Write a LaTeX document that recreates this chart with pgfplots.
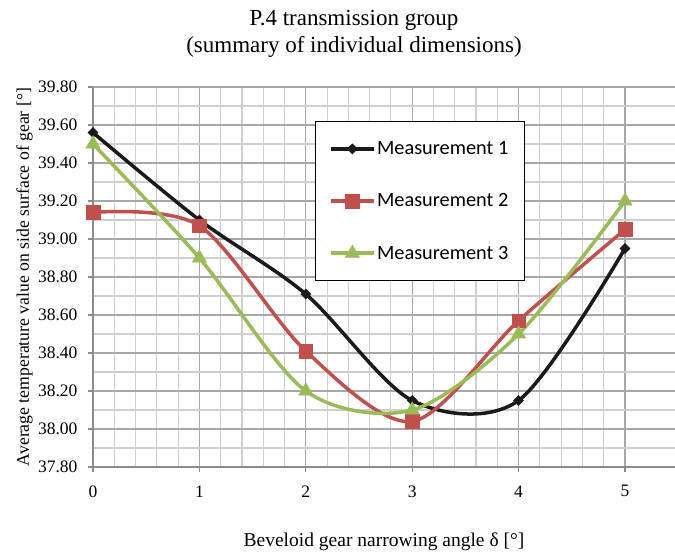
\documentclass[border=0pt]{standalone}
\usepackage{pgfplots}
\pgfplotsset{compat=1.18}
\usepackage{fontspec}
\setmainfont{Liberation Serif}
\newfontfamily\carlito{Carlito}
\definecolor{mone}{HTML}{1A1A1A}
\definecolor{mtwo}{HTML}{C0504D}
\definecolor{mthree}{HTML}{9BBB59}
\definecolor{majgrid}{HTML}{A8A8A8}
\definecolor{mingrid}{HTML}{CFCFCF}
\definecolor{axgray}{HTML}{8C8C8C}
\begin{document}
\begin{tikzpicture}
\useasboundingbox (0,0) rectangle (675pt,557pt);
\node[font=\fontsize{23}{27}\selectfont, align=center] at (354pt,523.5pt) {P.4 transmission group\\(summary of individual dimensions)};
\begin{axis}[
  at={(93pt,90pt)}, anchor=south west,
  scale only axis, width=582pt, height=380pt,
  xmin=0, xmax=5.47, ymin=37.8, ymax=39.8,
  axis x line=bottom, axis y line=left,
  axis line style={-, draw=axgray, line width=1.3pt},
  xtick={0,1,2,3,4,5},
  ytick={37.8,38.0,38.2,38.4,38.6,38.8,39.0,39.2,39.4,39.6,39.8},
  minor x tick num=4, minor y tick num=1,
  grid=both,
  major grid style={draw=majgrid, line width=1.1pt},
  minor grid style={draw=mingrid, line width=1.1pt},
  tick align=outside, major tick length=5pt, minor tick length=0pt,
  tick style={draw=axgray, line width=1.1pt},
  /pgf/number format/assume math mode=true,
  tick label style={font=\fontsize{17.5}{20}\selectfont},
  yticklabel style={/pgf/number format/fixed, /pgf/number format/fixed zerofill, /pgf/number format/precision=2, xshift=-7pt},
  xticklabel style={yshift=-10pt},
  xlabel={Beveloid gear narrowing angle δ [°]},
  ylabel={Average temperature value on side surface of gear [°]},
  xlabel style={font=\fontsize{19.5}{22}\selectfont, anchor=base, at={(axis description cs:0.5,-0.2105)}},
  ylabel style={font=\fontsize{17.7}{20}\selectfont, anchor=base, at={(axis description cs:-0.11,0.5)}},
  legend style={at={(axis description cs:0.3814,0.9105)}, anchor=north west,
    draw=black, line width=1.3pt, fill=white,
    font=\carlito\fontsize{20.3}{24}\selectfont,
    row sep=33.5pt, inner xsep=14pt, inner ysep=18pt},
  legend cell align=left,
  legend image code/.code={\draw[mark repeat=2,mark phase=2,#1] plot coordinates {(0pt,0pt) (21pt,0pt) (42pt,0pt)};},
]
\addplot[mone, line width=3.5pt, smooth, tension=0.5, mark=square*, mark size=3.6pt,
  mark options={solid, line width=0.4pt, rotate=45, fill=mone}]
  coordinates {(0,39.56) (1,39.10) (2,38.71) (3,38.15) (4,38.15) (5,38.95)};
\addlegendentry{Measurement 1}
\addplot[mtwo, line width=3.5pt, smooth, tension=0.5, mark=square*, mark size=6.8pt,
  mark options={solid, line width=0.4pt, fill=mtwo}]
  coordinates {(0,39.14) (1,39.07) (2,38.41) (3,38.04) (4,38.57) (5,39.05)};
\addlegendentry{Measurement 2}
\addplot[mthree, line width=3.5pt, smooth, tension=0.5, mark=triangle*, mark size=8.3pt,
  mark options={solid, line width=0.4pt, fill=mthree}]
  coordinates {(0,39.50) (1,38.90) (2,38.20) (3,38.10) (4,38.50) (5,39.20)};
\addlegendentry{Measurement 3}
\end{axis}
\end{tikzpicture}
\end{document}
